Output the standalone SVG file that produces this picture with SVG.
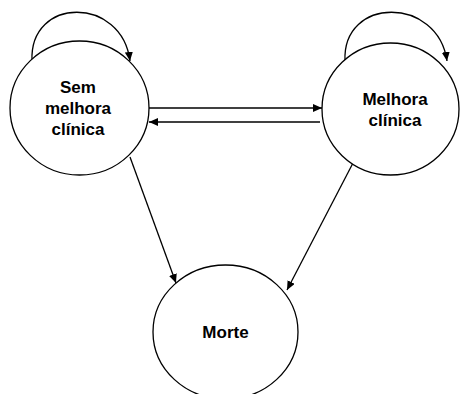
<svg xmlns="http://www.w3.org/2000/svg" width="460" height="394" viewBox="0 0 460 394">
<defs>
<marker id="ah" markerWidth="10" markerHeight="8" refX="9" refY="4" orient="auto" markerUnits="userSpaceOnUse">
<path d="M0,0 L9,4 L0,8 Z" fill="#000"/>
</marker>
<style>
.node{fill:#fff;stroke:#000;stroke-width:1.3}
.lbl{font-family:"Liberation Sans",Arial,sans-serif;font-weight:bold;font-size:17px;fill:#000;text-anchor:middle}
.edge{fill:none;stroke:#000;stroke-width:1.3;marker-end:url(#ah)}
</style>
</defs>
<rect width="460" height="394" fill="#fff"/>
<g id="connectors">
<path class="edge" d="M32,61 C29,-4 122,-4 130,61"/>
<path class="edge" d="M345,61 C342,-4 438,-4 447,61"/>
<path class="edge" d="M149,108 L322,108"/>
<path class="edge" d="M320,122 L149,122"/>
<path class="edge" d="M130,157 L176,283"/>
<path class="edge" d="M353,163 L287,290"/>
</g>
<g id="sem">
<ellipse class="node" cx="79.5" cy="108" rx="69.5" ry="67"/>
<text class="lbl" x="78" y="93">Sem</text>
<text class="lbl" x="78" y="114">melhora</text>
<text class="lbl" x="78" y="135">clínica</text>
</g>
<g id="melhora">
<ellipse class="node" cx="390.5" cy="109" rx="68.5" ry="66"/>
<text class="lbl" x="395" y="105">Melhora</text>
<text class="lbl" x="395" y="126">clínica</text>
</g>
<g id="morte">
<ellipse class="node" cx="225.5" cy="332" rx="72.5" ry="67"/>
<text class="lbl" x="225.5" y="338">Morte</text>
</g>
</svg>
